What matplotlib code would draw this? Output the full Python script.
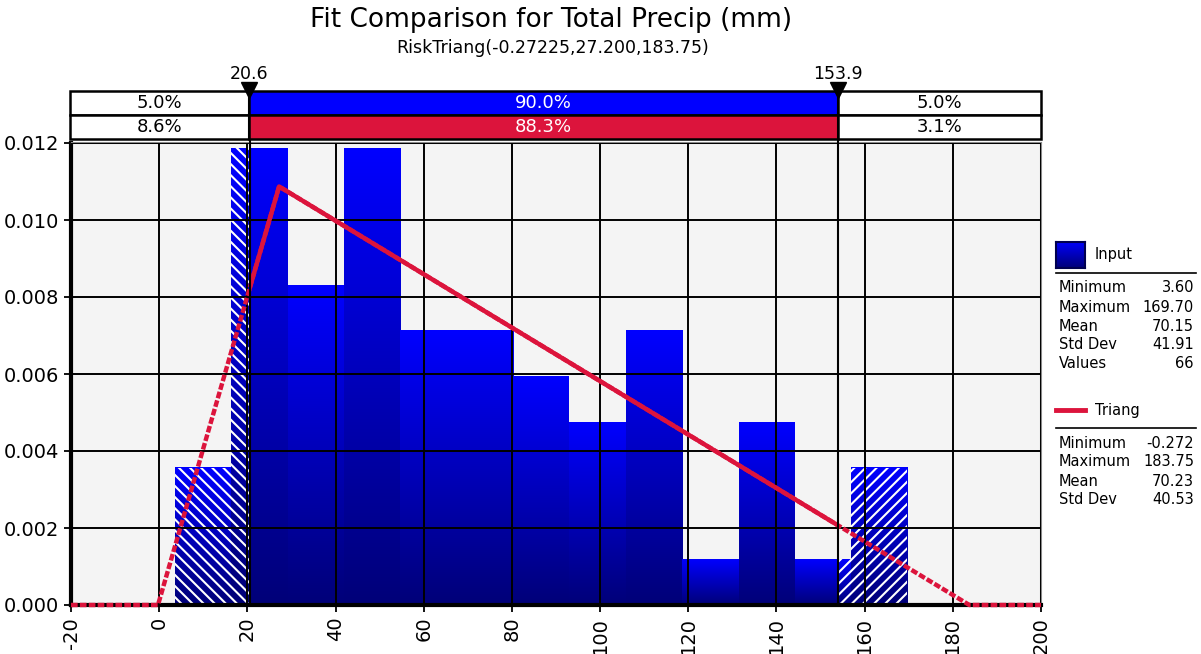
import matplotlib.pyplot as plt
import numpy as np
from matplotlib.patches import Rectangle
from matplotlib.lines import Line2D
from matplotlib.colors import LinearSegmentedColormap

# histogram (density)
bin_edges = [3.6, 16.4, 29.2, 41.9, 54.7, 67.5, 80.3, 93.0, 105.8, 118.6, 131.4, 144.1, 156.9, 169.7]
density = [0.00356, 0.01186, 0.0083, 0.01186, 0.00712, 0.00712, 0.00593,
           0.00474, 0.00712, 0.00119, 0.00474, 0.00119, 0.00356]

# fitted triangular curve, vertices
tri_x = [-20, -0.27225, 27.2, 183.75, 200]
tri_y = [0, 0, 0.01087, 0, 0]

# delimiters and band percentages
lo, hi = 20.6, 153.9
band_input = ['5.0%', '90.0%', '5.0%']
band_fit = ['8.6%', '88.3%', '3.1%']

# legend stats
input_names = ['Minimum', 'Maximum', 'Mean', 'Std Dev', 'Values']
input_vals = ['3.60', '169.70', '70.15', '41.91', '66']
fit_names = ['Minimum', 'Maximum', 'Mean', 'Std Dev']
fit_vals = ['-0.272', '183.75', '70.23', '40.53']

W, H = 1201, 654
RED = '#DC143C'
plt.rcParams['font.family'] = 'DejaVu Sans'
plt.rcParams['axes.unicode_minus'] = False
plt.rcParams['hatch.linewidth'] = 1.5
cmap = LinearSegmentedColormap.from_list('bl', ['#000078', '#0000FF'])
grad = np.linspace(0, 1, 256).reshape(-1, 1)


def px(x, y):
    return x / W, 1 - y / H


fig = plt.figure(figsize=(W / 100, H / 100), dpi=100)
ax = fig.add_axes([71 / W, 1 - 605 / H, 970 / W, 462 / H])
ax.set_facecolor('#F4F4F4')

# bars with vertical gradient, hatched outside lo..hi
for i in range(len(density)):
    a, b, h = bin_edges[i], bin_edges[i + 1], density[i]
    ax.imshow(grad, cmap=cmap, origin='lower', extent=[a, b, 0, h],
              aspect='auto', interpolation='bilinear', zorder=1)
    if a < lo:
        ax.add_patch(Rectangle((a, 0), min(b, lo) - a, h, fill=False, hatch='\\\\\\',
                               edgecolor='white', lw=0, zorder=1.2))
    if b > hi:
        s = max(a, hi)
        ax.add_patch(Rectangle((s, 0), b - s, h, fill=False, hatch='///',
                               edgecolor='white', lw=0, zorder=1.2))

# fitted curve: dashed outside, solid inside
ax.plot(tri_x, tri_y, color=RED, lw=3.2, dashes=(1.5, 0.5), zorder=3, clip_on=False)
solid, = ax.plot(tri_x, tri_y, color=RED, lw=3.2, zorder=3.1)
clip = Rectangle((lo, -1), hi - lo, 2, transform=ax.transData)
solid.set_clip_path(clip)

for v in (lo, hi):
    ax.plot([v, v], [0, 0.0121], color='black', lw=1.5, zorder=4, clip_on=False)

ax.set_xlim(-20, 200)
ax.set_ylim(0, 0.012)
ax.set_xticks(np.arange(-20, 201, 20))
ax.set_yticks(np.arange(0, 0.0121, 0.002))
ax.set_yticklabels(['%.3f' % t for t in np.arange(0, 0.0121, 0.002)])
ax.set_axisbelow(False)
ax.grid(True, color='black', lw=1.4)
ax.tick_params(axis='x', labelrotation=90, labelsize=14, length=5, width=1.3)
ax.tick_params(axis='y', labelsize=14, length=5, width=1.3)
for s in ('left', 'bottom'):
    ax.spines[s].set_linewidth(3)
for s in ('top', 'right'):
    ax.spines[s].set_color('#888888')
    ax.spines[s].set_linewidth(1.5)

# percentage band above the plot
bx = fig.add_axes([70 / W, 1 - 138.7 / H, 971 / W, 47.7 / H])
bx.set_xlim(-20, 200)
bx.set_ylim(0, 2)
bx.axis('off')
edges = [-20, lo, hi, 200]
for row, labels, mid in ((1, band_input, '#0000FF'), (0, band_fit, RED)):
    for k in range(3):
        fc = mid if k == 1 else 'white'
        bx.add_patch(Rectangle((edges[k], row), edges[k + 1] - edges[k], 1,
                               facecolor=fc, edgecolor='black', lw=1.8, clip_on=False))
        bx.text((edges[k] + edges[k + 1]) / 2, row + 0.5, labels[k], ha='center', va='center',
                fontsize=13, color='white' if k == 1 else 'black')
for v in (lo, hi):
    bx.plot([v, v], [0, 2], color='black', lw=1.5, clip_on=False)
    bx.plot(v, 2.05, marker='v', color='black', markersize=12, clip_on=False)
    bx.annotate('%.1f' % v, (v, 2), xytext=(0, 6), textcoords='offset points',
                ha='center', va='bottom', fontsize=12.5)

# titles
fig.text(*px(551, 20), 'Fit Comparison for Total Precip (mm)', ha='center', va='center', fontsize=19)
fig.text(*px(553, 48), 'RiskTriang(-0.27225,27.200,183.75)', ha='center', va='center', fontsize=12.5)

# legend panel
sq = fig.add_axes([1056 / W, 1 - 268 / H, 29 / W, 26 / H])
sq.imshow(grad, cmap=cmap, aspect='auto', origin='lower')
sq.set_xticks([])
sq.set_yticks([])
for s in sq.spines.values():
    s.set_color('#000050')
    s.set_linewidth(1.5)
fig.text(*px(1095, 255), 'Input', ha='left', va='center', fontsize=10.5)
fig.add_artist(Line2D([1056 / W, 1085 / W], [1 - 410 / H] * 2, color=RED, lw=3.5))
fig.text(*px(1095, 410), 'Triang', ha='left', va='center', fontsize=10.5)
for yy in (273, 428):
    fig.add_artist(Line2D([1056 / W, 1196 / W], [1 - yy / H] * 2, color='black', lw=1.2))

for i, (n, v) in enumerate(zip(input_names, input_vals)):
    y = 288 + i * 19
    fig.text(*px(1059, y), n, ha='left', va='center', fontsize=10.5)
    fig.text(*px(1194, y), v, ha='right', va='center', fontsize=10.5)
for i, (n, v) in enumerate(zip(fit_names, fit_vals)):
    y = 443 + i * 19
    fig.text(*px(1059, y), n, ha='left', va='center', fontsize=10.5)
    fig.text(*px(1194, y), v, ha='right', va='center', fontsize=10.5)

fig.savefig('out.png', dpi=100)
